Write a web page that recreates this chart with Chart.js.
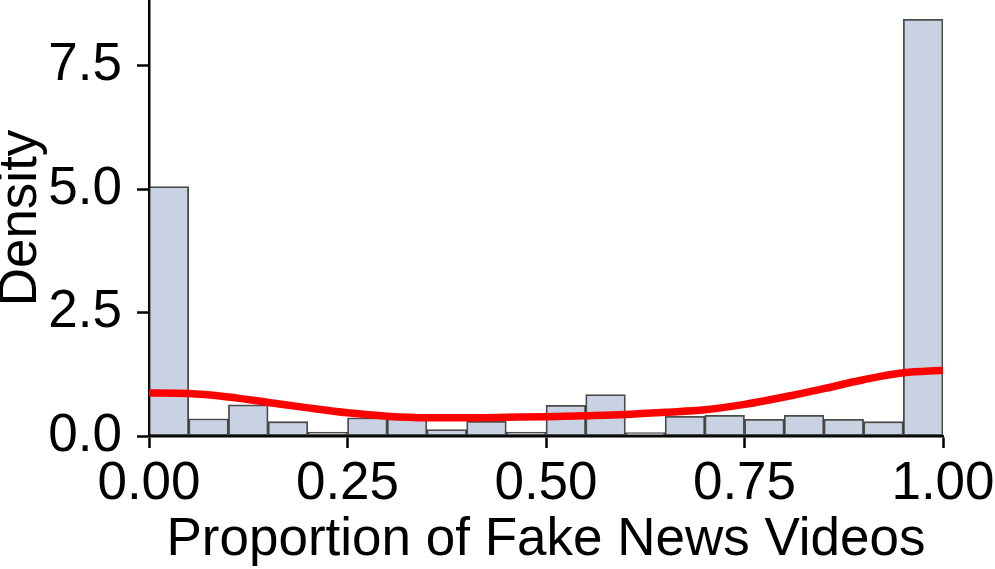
<!DOCTYPE html>
<html>
<head>
<meta charset="utf-8">
<title>Proportion of Fake News Videos</title>
<script src="https://cdn.jsdelivr.net/npm/chart.js@4.4.1/dist/chart.umd.min.js"></script>
<style>
  html, body { margin: 0; padding: 0; background: #fff; }
  canvas { display: block; }
</style>
</head>
<body>
<canvas id="histChart" width="995" height="569"></canvas>
<script>
// Histogram bins (20 bins of width 0.05), density values
const binStarts = [0.00, 0.05, 0.10, 0.15, 0.20, 0.25, 0.30, 0.35, 0.40, 0.45,
                   0.50, 0.55, 0.60, 0.65, 0.70, 0.75, 0.80, 0.85, 0.90, 0.95];
const binWidth = 0.05;
const densities = [5.05, 0.35, 0.63, 0.29, 0.08, 0.37, 0.35, 0.13, 0.30, 0.08,
                   0.62, 0.84, 0.07, 0.40, 0.42, 0.34, 0.42, 0.34, 0.29, 8.44];

// KDE curve
const kdeX = [0.00, 0.05, 0.10, 0.15, 0.20, 0.25, 0.30, 0.35, 0.40, 0.45, 0.50,
              0.55, 0.60, 0.65, 0.70, 0.75, 0.80, 0.85, 0.90, 0.95, 1.00];
const kdeY = [0.87, 0.86, 0.79, 0.68, 0.57, 0.47, 0.40, 0.37, 0.37, 0.38, 0.39,
              0.41, 0.435, 0.48, 0.53, 0.64, 0.79, 0.96, 1.14, 1.28, 1.33];

// Axis ticks
const xTicks = [0, 0.25, 0.5, 0.75, 1.0];
const yTicks = [0, 2.5, 5.0, 7.5];
const yMax = 8.83;

document.addEventListener('DOMContentLoaded', function() {
  const font = "'Liberation Sans', Arial, sans-serif";

  const barData = binStarts.map((s, i) => ({ x: s + binWidth / 2, y: densities[i] }));
  const kdeData = kdeX.map((x, i) => ({ x: x, y: kdeY[i] }));

  const ctx = document.getElementById('histChart').getContext('2d');
  new Chart(ctx, {
    type: 'bar',
    data: {
      datasets: [{
        type: 'line',
        data: kdeData,
        borderColor: '#ff0000',
        borderWidth: 7.5,
        borderCapStyle: 'butt',
        pointRadius: 0,
        cubicInterpolationMode: 'monotone',
        fill: false,
        order: 0
      }, {
        type: 'bar',
        data: barData,
        backgroundColor: '#c9d2e2',
        borderColor: 'rgba(30, 30, 30, 0.8)',
        borderWidth: 1.8,
        borderSkipped: false,
        barPercentage: 1,
        categoryPercentage: 1,
        order: 1
      }]
    },
    options: {
      responsive: false,
      animation: false,
      devicePixelRatio: 1,
      layout: { padding: { left: 0, right: 52, top: 0, bottom: 0 } },
      plugins: {
        legend: { display: false },
        tooltip: { enabled: false }
      },
      scales: {
        x: {
          type: 'linear',
          min: 0,
          max: 1,
          offset: false,
          afterBuildTicks: function(scale) {
            scale.ticks = xTicks.map(v => ({ value: v }));
          },
          afterFit: function(scale) {
            scale.height = 133;
            scale.paddingLeft = 0;
            scale.paddingRight = 0;
          },
          grid: {
            display: true,
            offset: false,
            drawOnChartArea: false,
            drawTicks: true,
            tickLength: 12,
            tickWidth: 2.5,
            tickColor: '#000'
          },
          border: { display: true, color: '#000', width: 2.5 },
          ticks: {
            color: '#000',
            padding: 5,
            maxRotation: 0,
            font: { family: font, size: 53 },
            callback: v => Number(v).toFixed(2)
          },
          title: {
            display: true,
            text: 'Proportion of Fake News Videos',
            color: '#000',
            padding: 0,
            font: { family: font, size: 53, lineHeight: 1.09 }
          }
        },
        y: {
          min: 0,
          max: yMax,
          afterBuildTicks: function(scale) {
            scale.ticks = yTicks.map(v => ({ value: v }));
          },
          afterFit: function(scale) {
            scale.width = 149;
            scale.paddingTop = 0;
            scale.paddingBottom = 0;
          },
          grid: {
            display: true,
            drawOnChartArea: false,
            drawTicks: true,
            tickLength: 12,
            tickWidth: 2.5,
            tickColor: '#000'
          },
          border: { display: true, color: '#000', width: 2.5 },
          ticks: {
            color: '#000',
            padding: 15,
            font: { family: font, size: 53 },
            callback: v => Number(v).toFixed(1)
          },
          title: {
            display: true,
            text: 'Density',
            color: '#000',
            padding: 0,
            font: { family: font, size: 53, lineHeight: 0.8 }
          }
        }
      }
    }
  });
});
</script>
</body>
</html>
